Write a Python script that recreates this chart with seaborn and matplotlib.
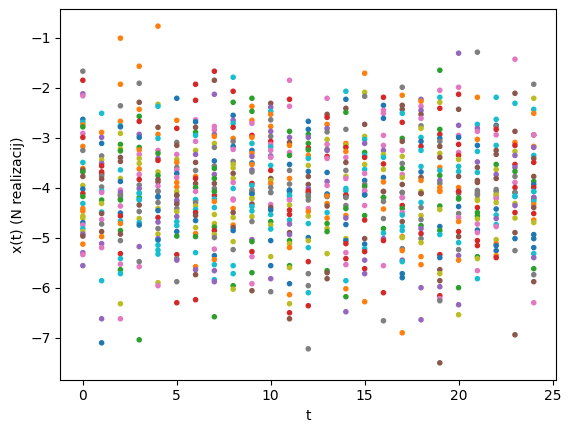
import matplotlib
matplotlib.use("Agg")
import matplotlib.pyplot as plt
import pandas as pd
import seaborn as sns

t00_vals = [-1.66,-1.84,-2.11,-2.15,-2.62,-2.68,-2.73,-2.77,-2.90,-2.98,-3.16,-3.24,-3.48,-3.60,-3.63,-3.67,-3.76,-3.94,-4.01,-4.10,-4.16,-4.30,-4.40,-4.45,-4.55,-4.59,-4.68,-4.73,-4.80,-4.86,-4.91,-4.95,-5.11,-5.28,-5.32,-5.54]
t00_cols = [7,3,4,6,0,9,1,2,6,3,1,7,9,1,5,2,5,8,0,3,2,9,1,1,8,8,0,6,9,8,4,5,1,4,6,4]
t01_vals = [-2.50,-2.88,-2.98,-3.10,-3.35,-3.43,-3.50,-3.55,-3.67,-3.71,-3.75,-3.81,-3.97,-4.05,-4.08,-4.23,-4.30,-4.47,-4.50,-4.62,-4.71,-4.86,-4.96,-5.10,-5.18,-5.84,-6.60,-7.08]
t01_cols = [9,1,4,0,7,8,4,3,3,3,7,5,7,9,6,2,8,9,5,6,7,5,1,4,6,9,4,0]
t02_vals = [-1.00,-1.92,-2.35,-2.66,-2.75,-2.77,-2.90,-3.12,-3.21,-3.25,-3.38,-3.46,-3.63,-3.80,-3.86,-4.03,-4.08,-4.13,-4.20,-4.14,-4.23,-4.35,-4.49,-4.55,-4.65,-4.70,-4.84,-4.91,-5.04,-5.30,-5.40,-5.51,-5.62,-5.70,-6.30,-6.60]
t02_cols = [1,1,7,1,9,0,8,2,8,2,5,5,9,8,0,6,4,4,7,7,2,6,0,3,9,1,2,5,7,3,9,6,2,9,8,6]
t03_vals = [-1.56,-1.90,-2.28,-2.42,-2.56,-2.66,-2.92,-2.98,-3.18,-3.23,-3.32,-3.40,-3.50,-3.61,-3.72,-3.82,-3.93,-4.00,-4.09,-4.18,-4.22,-4.10,-4.23,-4.33,-4.46,-4.60,-4.68,-4.73,-5.16,-5.46,-5.56,-7.02]
t03_cols = [1,7,5,1,2,3,4,0,2,1,6,8,8,1,6,3,7,4,9,2,9,9,9,5,7,8,9,0,4,7,6,2]
t04_vals = [-0.76,-2.32,-2.36,-2.78,-2.92,-3.00,-3.24,-3.30,-3.40,-3.44,-3.67,-3.74,-3.82,-3.87,-3.95,-4.05,-4.17,-4.06,-4.16,-4.28,-4.40,-4.44,-4.58,-4.67,-4.80,-4.91,-5.00,-5.03,-5.13,-5.23,-5.31,-5.88,-5.94]
t04_cols = [1,8,9,5,1,9,6,2,4,3,8,2,5,5,6,7,0,7,0,7,8,0,3,4,7,8,4,0,9,9,9,8,6]
t05_vals = [-2.20,-2.64,-2.80,-3.08,-3.14,-3.32,-3.42,-3.48,-3.58,-3.63,-3.70,-3.78,-3.88,-3.97,-4.06,-4.14,-4.23,-4.13,-4.26,-4.31,-4.40,-4.46,-4.56,-4.66,-4.74,-4.86,-4.95,-5.32,-5.40,-5.43,-5.86,-6.28]
t05_cols = [0,1,3,7,5,6,8,1,7,6,0,6,1,1,8,5,4,5,4,5,7,8,4,9,9,0,2,3,7,4,7,3]
t06_vals = [-1.92,-2.24,-2.63,-2.67,-2.78,-2.88,-2.94,-3.06,-3.24,-3.32,-3.48,-3.64,-3.76,-3.80,-3.90,-3.98,-4.06,-4.22,-4.24,-4.28,-4.35,-4.42,-4.48,-4.54,-4.64,-4.78,-4.90,-4.96,-5.28,-5.56,-5.62,-5.72,-6.22]
t06_cols = [3,3,6,0,5,2,9,6,8,4,5,7,1,3,5,2,6,9,9,7,8,9,3,5,0,8,1,2,9,1,4,5,3]
t07_vals = [-1.66,-1.84,-2.12,-2.76,-2.83,-2.92,-2.96,-3.10,-3.18,-3.45,-3.55,-3.60,-3.72,-3.80,-3.90,-4.00,-4.14,-4.21,-4.06,-4.26,-4.38,-4.52,-4.70,-4.77,-4.84,-4.92,-4.98,-5.21,-5.34,-5.42,-5.52,-5.64,-5.82,-5.86,-6.56]
t07_cols = [3,5,4,6,6,4,1,8,7,0,7,2,4,2,5,7,3,9,2,1,9,8,8,2,3,8,7,6,0,1,9,4,9,4,2]
t08_vals = [-1.78,-2.06,-2.28,-2.54,-2.64,-2.70,-2.78,-3.00,-3.06,-3.16,-3.22,-3.46,-3.52,-3.59,-3.70,-3.80,-3.88,-4.00,-4.21,-4.23,-4.40,-4.48,-4.58,-4.73,-4.78,-4.84,-5.06,-5.22,-5.54,-5.70,-5.94,-6.01]
t08_cols = [9,3,2,0,4,9,3,1,7,0,6,7,8,8,5,8,6,9,6,6,1,5,8,1,5,0,8,7,9,9,2,8]
t09_vals = [-2.20,-2.36,-2.46,-2.64,-2.70,-2.94,-2.98,-3.10,-3.24,-3.30,-3.36,-3.49,-3.52,-3.63,-3.67,-3.90,-3.94,-4.03,-4.10,-4.19,-4.06,-4.11,-4.20,-4.31,-4.36,-4.45,-4.56,-4.66,-5.02,-5.06,-5.26,-5.36,-5.68,-5.90,-6.04]
t09_cols = [2,1,2,1,6,3,1,9,0,1,4,0,1,4,7,3,9,7,0,8,7,0,8,5,9,9,8,7,4,2,3,6,2,6,5]
t10_vals = [-2.30,-2.38,-2.46,-2.52,-2.63,-2.76,-2.86,-2.96,-3.06,-3.12,-3.17,-3.24,-3.35,-3.38,-3.54,-3.64,-3.80,-3.84,-3.90,-3.98,-4.08,-4.08,-4.32,-4.38,-4.43,-4.52,-4.66,-4.73,-4.81,-5.04,-5.36,-5.54,-5.80,-6.06]
t10_cols = [5,4,9,1,7,1,4,7,3,6,9,6,4,6,9,3,5,8,1,7,7,7,6,5,0,9,2,8,9,0,8,0,4,7]
t11_vals = [-1.84,-2.22,-2.36,-2.86,-2.98,-3.08,-3.14,-3.28,-3.34,-3.52,-3.64,-3.80,-3.91,-4.03,-4.06,-4.16,-4.21,-4.05,-4.13,-4.23,-4.33,-4.43,-4.52,-4.63,-4.71,-4.88,-4.92,-5.04,-5.10,-5.18,-5.54,-5.58,-5.90,-6.12,-6.30,-6.48,-6.60]
t11_cols = [6,3,6,2,4,5,1,6,2,0,7,1,7,0,9,9,6,0,9,6,8,3,3,9,4,5,4,2,8,1,2,8,0,1,8,3,5]
t12_vals = [-2.66,-2.82,-2.92,-2.98,-3.10,-3.19,-3.23,-3.34,-3.40,-3.54,-3.66,-3.76,-3.92,-4.00,-4.08,-4.16,-4.05,-4.13,-4.23,-4.40,-4.46,-4.55,-4.70,-4.98,-5.04,-5.18,-5.46,-5.70,-5.94,-6.08,-6.34,-7.20]
t12_cols = [0,0,2,4,2,3,2,1,9,8,0,5,5,4,3,2,3,7,7,6,1,8,9,0,8,9,3,7,7,9,3,7]
t13_vals = [-2.20,-2.52,-2.58,-2.72,-2.80,-2.87,-3.02,-3.12,-3.22,-3.24,-3.36,-3.40,-3.68,-3.86,-3.94,-4.12,-4.16,-4.11,-4.15,-4.30,-4.35,-4.48,-4.59,-4.70,-4.80,-4.86,-5.30,-5.64,-5.68,-5.80]
t13_cols = [6,5,3,1,4,7,8,6,7,4,3,6,0,4,6,1,0,0,1,1,5,9,1,2,8,2,8,2,5,5]
t14_vals = [-2.06,-2.22,-2.40,-2.48,-2.82,-3.10,-3.14,-3.18,-3.26,-3.38,-3.48,-3.64,-3.76,-3.80,-4.00,-4.14,-4.17,-4.05,-4.13,-4.18,-4.34,-4.40,-4.54,-4.59,-4.72,-5.00,-5.04,-5.10,-5.28,-5.40,-5.52,-5.84,-6.00,-6.16,-6.46]
t14_cols = [9,0,5,2,7,1,8,3,1,6,5,7,8,6,9,3,7,9,3,7,7,2,1,4,0,8,0,3,6,3,6,9,1,2,4]
t15_vals = [-1.70,-2.08,-2.16,-2.72,-2.96,-3.02,-3.10,-3.28,-3.34,-3.38,-3.52,-3.62,-3.70,-3.84,-3.92,-3.96,-4.04,-4.12,-4.06,-4.13,-4.34,-4.54,-4.63,-5.00,-5.11,-5.20,-5.26,-5.43,-5.60,-5.70,-6.26]
t15_cols = [1,8,7,5,8,9,4,2,9,3,8,9,6,0,7,2,6,0,6,0,6,2,3,5,0,9,3,4,3,4,1]
t16_vals = [-2.18,-2.34,-2.44,-2.50,-2.60,-2.94,-3.14,-3.24,-3.32,-3.38,-3.51,-3.62,-3.78,-3.87,-4.06,-4.18,-4.06,-4.18,-4.26,-4.41,-4.60,-4.80,-4.89,-5.00,-5.04,-5.54,-6.08,-6.64]
t16_cols = [3,0,6,6,0,6,6,4,8,9,3,8,0,1,5,2,5,2,7,1,7,2,9,4,3,6,3,7]
t17_vals = [-1.98,-2.14,-2.34,-2.42,-2.50,-2.68,-3.00,-3.06,-3.24,-3.36,-3.50,-3.60,-3.72,-3.78,-3.92,-4.08,-4.18,-4.08,-4.18,-4.34,-4.40,-4.48,-4.53,-4.66,-4.76,-4.84,-4.96,-4.98,-5.20,-5.24,-5.43,-5.46,-5.70,-5.78,-6.88]
t17_cols = [7,1,5,5,9,3,2,5,6,8,7,2,6,8,5,7,6,7,6,3,2,6,9,5,9,9,1,8,7,1,4,9,0,0,1]
t18_vals = [-2.22,-2.26,-2.36,-2.44,-2.52,-2.60,-2.75,-2.80,-2.98,-3.06,-3.16,-3.24,-3.56,-3.67,-3.78,-3.84,-4.06,-4.10,-4.10,-4.28,-4.38,-4.54,-4.62,-4.74,-4.80,-4.90,-5.00,-5.08,-5.36,-5.52,-5.98,-6.62]
t18_cols = [4,1,6,4,5,6,7,8,9,0,3,9,9,0,5,1,8,5,5,9,7,8,7,2,4,3,7,8,1,1,4,4]
t19_vals = [-1.64,-2.04,-2.18,-2.28,-2.40,-2.82,-2.92,-3.00,-3.06,-3.16,-3.30,-3.38,-3.58,-3.64,-3.74,-3.84,-3.90,-3.98,-4.04,-4.06,-4.35,-4.42,-4.76,-4.84,-4.92,-5.32,-5.38,-5.62,-5.70,-5.84,-5.96,-6.14,-6.20,-6.24,-7.48]
t19_cols = [2,6,9,8,3,2,3,0,7,5,8,5,1,9,2,4,7,1,1,1,2,8,0,2,9,3,0,5,8,5,4,3,6,7,5]
t20_vals = [-1.30,-1.98,-2.12,-2.42,-2.74,-2.94,-2.98,-3.12,-3.28,-3.34,-3.42,-3.56,-3.66,-3.76,-3.98,-4.06,-4.10,-4.19,-4.06,-4.21,-4.36,-4.50,-4.58,-4.66,-4.86,-4.96,-5.08,-5.22,-5.34,-5.43,-5.98,-6.32,-6.52]
t20_cols = [4,6,3,5,4,6,0,3,6,3,8,9,9,5,1,3,7,2,3,2,0,7,6,1,3,5,9,7,4,1,2,4,8]
t21_vals = [-1.28,-2.18,-2.72,-2.80,-2.86,-3.02,-3.14,-3.26,-3.47,-3.58,-3.68,-3.84,-3.88,-4.04,-4.12,-4.21,-4.08,-4.13,-4.24,-4.38,-4.48,-4.55,-4.61,-4.71,-4.83,-4.88,-5.04,-5.14,-5.36,-5.40,-5.64,-5.80]
t21_cols = [7,1,9,4,6,1,0,9,4,5,9,5,5,7,7,8,7,7,8,3,2,2,8,6,0,6,3,3,2,8,6,9]
t22_vals = [-2.18,-2.62,-2.74,-2.76,-2.82,-2.93,-3.14,-3.24,-3.32,-3.52,-3.62,-3.72,-3.80,-4.02,-4.12,-4.18,-4.06,-4.13,-4.20,-4.28,-4.41,-4.53,-4.60,-4.72,-4.76,-5.02,-5.10,-5.14,-5.24,-5.34,-5.38]
t22_cols = [9,9,0,7,3,6,9,5,5,2,8,4,5,7,8,6,7,8,6,8,0,9,4,9,6,8,1,0,0,1,3]
t23_vals = [-1.42,-2.10,-2.30,-2.86,-3.08,-3.14,-3.26,-3.34,-3.52,-3.58,-3.66,-3.76,-3.88,-3.98,-4.08,-4.16,-4.08,-4.15,-4.30,-4.34,-4.48,-4.59,-4.88,-5.00,-5.24,-6.92]
t23_cols = [6,5,9,5,1,3,8,4,3,4,2,7,6,3,7,9,7,9,8,4,3,8,5,0,7,5]
t24_vals = [-1.92,-2.20,-2.42,-2.50,-2.93,-2.93,-3.16,-3.18,-3.34,-3.40,-3.48,-3.76,-3.86,-3.92,-3.98,-4.06,-4.18,-4.22,-4.06,-4.18,-4.26,-4.32,-4.38,-4.50,-4.63,-4.68,-4.92,-5.00,-5.18,-5.30,-5.38,-5.60,-5.72,-5.86,-6.28]
t24_cols = [7,8,9,1,3,6,1,4,9,5,3,5,2,0,3,9,4,2,9,4,9,1,5,3,1,8,0,0,0,9,4,2,7,5,6]

value_columns = [t00_vals,t01_vals,t02_vals,t03_vals,t04_vals,t05_vals,t06_vals,t07_vals,t08_vals,t09_vals,t10_vals,t11_vals,t12_vals,t13_vals,t14_vals,t15_vals,t16_vals,t17_vals,t18_vals,t19_vals,t20_vals,t21_vals,t22_vals,t23_vals,t24_vals]
colour_columns = [t00_cols,t01_cols,t02_cols,t03_cols,t04_cols,t05_cols,t06_cols,t07_cols,t08_cols,t09_cols,t10_cols,t11_cols,t12_cols,t13_cols,t14_cols,t15_cols,t16_cols,t17_cols,t18_cols,t19_cols,t20_cols,t21_cols,t22_cols,t23_cols,t24_cols]

# The values above were read against a slightly coarse scale; this corrects that reading.
READ_SCALE = 1.003
READ_SHIFT = -0.004

rows = []
for t, (vals, cols) in enumerate(zip(value_columns, colour_columns)):
    n = min(len(vals), len(cols))
    rows += [(t, -1 + READ_SHIFT + (v + 1) * READ_SCALE, c) for v, c in zip(vals[:n], cols[:n])]
df = pd.DataFrame(rows, columns=["t", "x", "realization"])

fig = plt.figure(figsize=(5.70, 4.32), dpi=100)
ax = fig.add_axes([60.3/570, 52.3/432, 496/570, 370.4/432])
sns.scatterplot(data=df, x="t", y="x", hue="realization", palette="tab10",
                hue_order=list(range(10)), s=9, linewidth=1, edgecolor="face",
                legend=False, ax=ax)
ax.set_xlabel("t")
ax.set_ylabel("x(t) (N realizacij)")
fig.savefig("out.png", dpi=100)
